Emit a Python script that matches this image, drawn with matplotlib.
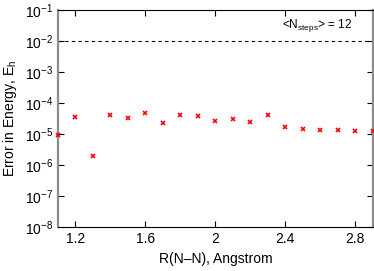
import numpy as np
import matplotlib
matplotlib.use("Agg")
from matplotlib import pyplot as plt

plt.rcParams['font.family'] = ['Liberation Sans', 'DejaVu Sans']
plt.rcParams['mathtext.fontset'] = 'custom'
plt.rcParams['mathtext.rm'] = 'Liberation Sans'
plt.rcParams['mathtext.it'] = 'Liberation Sans:italic'
plt.rcParams['mathtext.bf'] = 'Liberation Sans:bold'

# bond length (Angstrom) and energy error (Hartree)
r_nn = [1.1, 1.2, 1.3, 1.4, 1.5, 1.6, 1.7, 1.8, 1.9, 2.0,
        2.1, 2.2, 2.3, 2.4, 2.5, 2.6, 2.7, 2.8, 2.9]
err = [9.0e-6, 3.5e-5, 2.0e-6, 4.0e-5, 3.3e-5, 4.7e-5, 2.2e-5, 4.1e-5, 3.7e-5, 2.6e-5,
       3.0e-5, 2.4e-5, 4.2e-5, 1.7e-5, 1.5e-5, 1.4e-5, 1.35e-5, 1.3e-5, 1.26e-5]
threshold = 1e-2
xticks = [1.2, 1.6, 2.0, 2.4, 2.8]
xticklabels = ['1.2', '1.6', '2', '2.4', '2.8']

fig = plt.figure(figsize=(3.74, 2.71), dpi=100)
ax = fig.add_axes([0.155, 0.162, 0.842, 0.801])

ax.plot(r_nn, err, 'x', color='red', ms=3.2, mew=1.2, clip_on=False, zorder=3)
ax.axhline(threshold, color='black', ls=(0, (3, 3)), lw=0.8)

ax.set_yscale('log')
ax.set_xlim(1.1, 2.9)
ax.set_ylim(1e-8, 1e-1)
ax.set_xticks(xticks)
ax.set_xticklabels(xticklabels)
ax.set_yticks([10.0**k for k in range(-8, 0)])
ax.yaxis.set_minor_locator(matplotlib.ticker.LogLocator(base=10, subs=(2.0, 5.0)))
ax.yaxis.set_minor_formatter(matplotlib.ticker.NullFormatter())
ax.tick_params(which='major', direction='in', top=True, right=True, labelsize=10, length=4, width=0.8)
ax.tick_params(which='minor', direction='in', top=True, right=True, length=2, width=0.6)
for s in ax.spines.values():
    s.set_linewidth(0.8)
for side in ('left', 'right'):
    ax.spines[side].set_color('0.55')
    ax.spines[side].set_linewidth(1.6)

ax.text(0.935, 0.93, r'<N$_{\rm steps}$> = 12', transform=ax.transAxes,
        ha='right', va='center', fontsize=8.5)

ax.set_xlabel('R(N\u2013N), Angstrom', fontsize=10)
ax.set_ylabel('Error in Energy, E$_{\\rm h}$', fontsize=10)

fig.savefig('out.png', dpi=100)
